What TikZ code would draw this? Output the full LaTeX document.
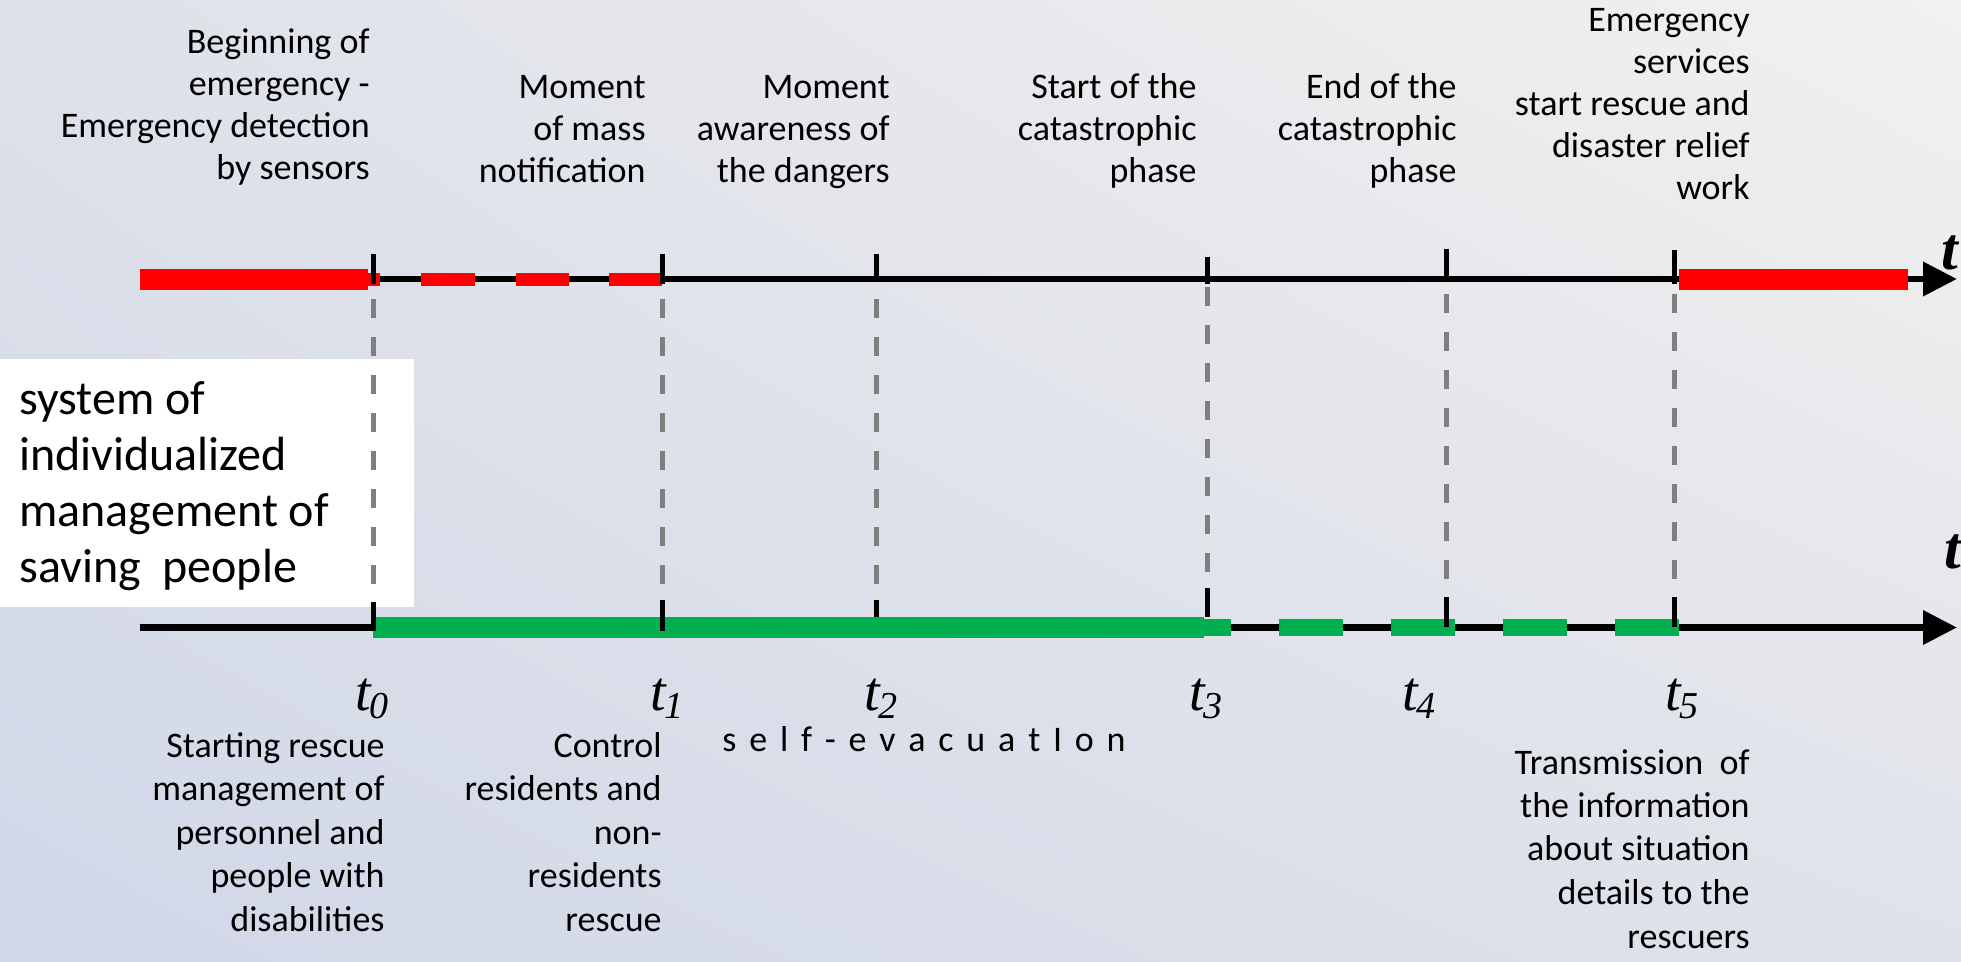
\documentclass[tikz,border=0pt]{standalone}
\usepackage{fontspec}
\setmainfont{Carlito}
\newfontfamily\timesfont{Liberation Serif}
\usetikzlibrary{arrows.meta,shadings}

\definecolor{alarmred}{HTML}{FF0000}
\definecolor{rescuegreen}{HTML}{00B050}
\definecolor{guidegray}{HTML}{7F7F7F}
\definecolor{bgUL}{HTML}{DEE1EA}
\definecolor{bgUR}{HTML}{F2F1EF}
\definecolor{bgLL}{HTML}{D1D7E8}
\definecolor{bgLR}{HTML}{DFE2EA}

% right-aligned stack of lines, baseline on the first line
\newcommand\rstack[1]{\begin{tabular}[t]{@{}r@{}}#1\end{tabular}}
\newcommand\lstack[1]{\begin{tabular}[t]{@{}l@{}}#1\end{tabular}}
% time mark t with an italic index
\newcommand\tmark[1]{{\timesfont\itshape\fontsize{28pt}{28pt}\selectfont t\kern-0.5pt\raisebox{-4pt}{\fontsize{19pt}{19pt}\selectfont #1}}}
\newcommand\ls{\kern6.4pt}

\begin{document}
\begin{tikzpicture}[x=0.5pt, y=-0.5pt,
  axisline/.style={line width=3.4pt, -{Triangle[length=17pt,width=16.5pt]}},
  tickmark/.style={line width=2.5pt},
  guide/.style={line width=2.5pt, guidegray, dash pattern=on 9.5pt off 9.5pt},
  redbar/.style={line width=10.5pt, alarmred},
  reddash/.style={line width=6.5pt, alarmred},
  greenbar/.style={line width=10.5pt, rescuegreen},
  greendash/.style={line width=8pt, rescuegreen},
  toplabel/.style={anchor=base east, inner sep=0pt, font=\fontsize{18pt}{21pt}\selectfont},
  botlabel/.style={anchor=base east, inner sep=0pt, font=\fontsize{18pt}{21.75pt}\selectfont},
  timelabel/.style={anchor=base west, inner sep=0pt},
  axislabel/.style={anchor=base west, inner sep=0pt, font=\timesfont\bfseries\itshape\fontsize{30pt}{30pt}\selectfont}]

\useasboundingbox (0,0) rectangle (1961,962);
\shade[upper left=bgUL, upper right=bgUR, lower left=bgLL, lower right=bgLR] (0,0) rectangle (1961,962);

% white panel with the system name
\fill[white] (0,359) rectangle (414,607);
\node[anchor=base west, inner sep=0pt, font=\fontsize{24pt}{28pt}\selectfont] (syslbl) at (19,415)
  {\lstack{system of\\individualized\\management of\\saving\ \ people}};

% vertical guides between the two time axes
\coordinate (g0) at (373,299);  \coordinate (h0) at (373,600);
\coordinate (g1) at (662,299);  \coordinate (h1) at (662,600);
\coordinate (g2) at (876,299);  \coordinate (h2) at (876,600);
\coordinate (g3) at (1207,287); \coordinate (h3) at (1207,588);
\coordinate (g4) at (1446,294); \coordinate (h4) at (1446,597);
\coordinate (g5) at (1674,294); \coordinate (h5) at (1674,597);
\foreach \i in {0,...,5} \draw[guide] (g\i) -- (h\i);

% upper time axis
\coordinate (ustart) at (140,279);
\coordinate (uend) at (1957,279);
\draw[axisline] (ustart) -- (uend);
\draw[redbar] (140,279.5) -- (368,279.5);
\draw[reddash] (368,279.5) -- (380,279.5);
\draw[reddash] (421,279.5) -- (475,279.5);
\draw[reddash] (516,279.5) -- (569,279.5);
\draw[reddash] (609,279.5) -- (662,279.5);
\draw[redbar] (1679,279.5) -- (1908,279.5);
\draw[tickmark] (373,254) -- (373,284);
\draw[tickmark] (662,254) -- (662,284);
\draw[tickmark] (876,254) -- (876,282);
\draw[tickmark] (1207,257) -- (1207,284);
\draw[tickmark] (1446,249) -- (1446,282);
\draw[tickmark] (1674,250) -- (1674,284);

% lower time axis
\coordinate (lstart) at (140,627.5);
\coordinate (lend) at (1957,627.5);
\draw[axisline] (lstart) -- (lend);
\draw[greenbar] (373,627.5) -- (1204,627.5);
\draw[greendash] (1204,627.5) -- (1231,627.5);
\draw[greendash] (1279,627.5) -- (1343,627.5);
\draw[greendash] (1391,627.5) -- (1455,627.5);
\draw[greendash] (1503,627.5) -- (1567,627.5);
\draw[greendash] (1615,627.5) -- (1679,627.5);
\draw[tickmark] (373,602) -- (373,631);
\draw[tickmark] (662,600) -- (662,631);
\draw[tickmark] (876,600) -- (876,617);
\draw[tickmark] (1207,588) -- (1207,617);
\draw[tickmark] (1446,597) -- (1446,627);
\draw[tickmark] (1674,597) -- (1674,627);

\node[axislabel] (tup) at (1941,270) {t};
\node[axislabel] (tlow) at (1944,568) {t};

% events above the axes
\node[toplabel] (evA) at (370,54) {\rstack{Beginning of\\emergency -\\Emergency detection\\by sensors}};
\node[toplabel] (evB) at (646,99) {\rstack{Moment\\of mass\\notification}};
\node[toplabel] (evC) at (890,99) {\rstack{Moment\\awareness of\\the dangers}};
\node[toplabel] (evD) at (1197,99) {\rstack{Start of the\\catastrophic\\phase}};
\node[toplabel] (evE) at (1457,99) {\rstack{End of the\\catastrophic\\phase}};
\node[toplabel] (evF) at (1750,32) {\rstack{Emergency\\services\\start rescue and\\disaster relief\\work}};

% time marks
\node[timelabel] (t0) at (355,710) {\tmark{0}};
\node[timelabel] (t1) at (650,710) {\tmark{1}};
\node[timelabel] (t2) at (864,710) {\tmark{2}};
\node[timelabel] (t3) at (1189,710) {\tmark{3}};
\node[timelabel] (t4) at (1402,710) {\tmark{4}};
\node[timelabel] (t5) at (1665,710) {\tmark{5}};

% actions below the axes
\node[botlabel] (acA) at (385,757) {\rstack{Starting rescue\\management of\\personnel and\\people with\\disabilities}};
\node[botlabel] (acB) at (662,757) {\rstack{Control\\residents and\\non-\\residents\\rescue}};
\node[botlabel] (acC) at (1750,774) {\rstack{Transmission\ \ of\\the information\\about situation\\details to the\\rescuers}};
\node[anchor=base west, inner sep=0pt, font=\fontsize{18pt}{21pt}\selectfont] (selfev) at (722,751)
  {s\ls e\ls l\ls f\ls -\ls e\ls v\ls a\ls c\ls u\ls a\ls t\ls I\ls o\ls n};
\end{tikzpicture}
\end{document}
